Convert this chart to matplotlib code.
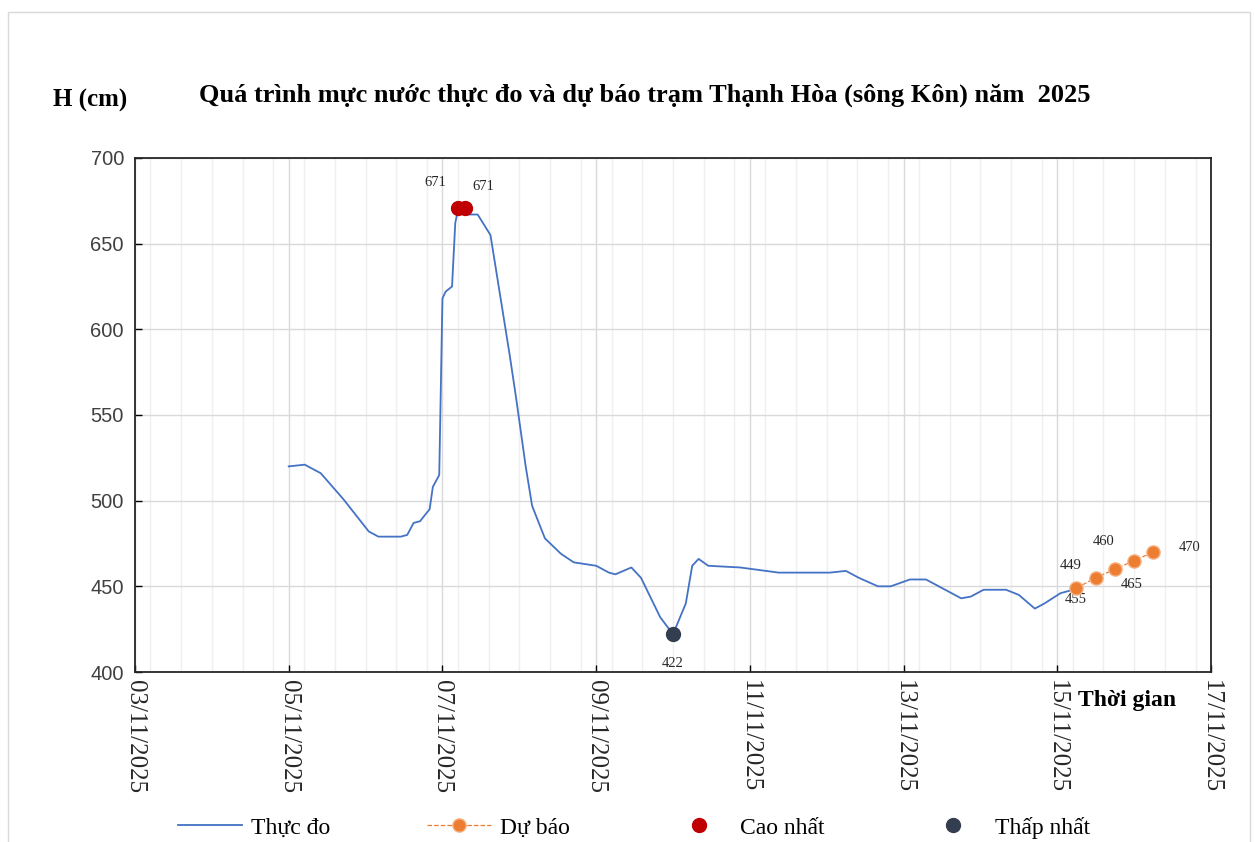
import matplotlib
matplotlib.use("Agg")
import matplotlib.pyplot as plt
from matplotlib.patches import Rectangle
from matplotlib.ticker import MultipleLocator
import pandas as pd

# Observed water level (cm)
obs_time = [
    "2025-11-05 00:00", "2025-11-05 05:00", "2025-11-05 10:00", "2025-11-05 17:00",
    "2025-11-06 01:00", "2025-11-06 04:00", "2025-11-06 11:00", "2025-11-06 13:00",
    "2025-11-06 15:00", "2025-11-06 17:00", "2025-11-06 20:00", "2025-11-06 21:00",
    "2025-11-06 23:00", "2025-11-07 00:00", "2025-11-07 01:00", "2025-11-07 03:00",
    "2025-11-07 04:00", "2025-11-07 05:00", "2025-11-07 07:00", "2025-11-07 08:00",
    "2025-11-07 11:00", "2025-11-07 15:00", "2025-11-07 18:00", "2025-11-07 21:00",
    "2025-11-07 23:00", "2025-11-08 02:00", "2025-11-08 04:00", "2025-11-08 08:00",
    "2025-11-08 13:00", "2025-11-08 17:00", "2025-11-09 00:00", "2025-11-09 04:00",
    "2025-11-09 06:00", "2025-11-09 11:00", "2025-11-09 14:00", "2025-11-09 20:00",
    "2025-11-10 00:00", "2025-11-10 04:00", "2025-11-10 06:00", "2025-11-10 08:00",
    "2025-11-10 11:00", "2025-11-10 21:00", "2025-11-11 09:00", "2025-11-12 01:00",
    "2025-11-12 06:00", "2025-11-12 10:00", "2025-11-12 16:00", "2025-11-12 20:00",
    "2025-11-13 02:00", "2025-11-13 07:00", "2025-11-13 13:00", "2025-11-13 18:00",
    "2025-11-13 21:00", "2025-11-14 01:00", "2025-11-14 08:00", "2025-11-14 12:00",
    "2025-11-14 17:00", "2025-11-14 20:00", "2025-11-15 01:00", "2025-11-15 05:00",
]
obs_level = [
    520, 521, 516, 501,
    482, 479, 479, 480,
    487, 488, 495, 508,
    515, 618, 622, 625,
    662, 671, 671, 667,
    667, 655, 620, 585,
    560, 520, 497, 478,
    469, 464, 462, 458,
    457, 461, 455, 432,
    422, 440, 462, 466,
    462, 461, 458, 458,
    459, 455, 450, 450,
    454, 454, 448, 443,
    444, 448, 448, 445,
    437, 440, 446, 448,
]

# Forecast
fc_time = ["2025-11-15 06:00", "2025-11-15 12:00", "2025-11-15 18:00",
           "2025-11-16 00:00", "2025-11-16 06:00"]
fc_level = [449, 455, 460, 465, 470]

# Extremes
max_time = ["2025-11-07 05:00", "2025-11-07 07:00"]
max_level = [671, 671]
min_time = ["2025-11-10 00:00"]
min_level = [422]

# Axis ticks
x_ticks = pd.date_range("2025-11-03", "2025-11-17", freq="2D")
y_ticks = [400, 450, 500, 550, 600, 650, 700]

obs_t = pd.to_datetime(obs_time)
fc_t = pd.to_datetime(fc_time)
max_t = pd.to_datetime(max_time)
min_t = pd.to_datetime(min_time)

serif = ["Liberation Serif", "DejaVu Serif"]
sans = ["Liberation Sans", "DejaVu Sans"]
plt.rcParams["font.family"] = serif

fig = plt.figure(figsize=(12.55, 8.42), dpi=100)
ax = fig.add_axes([0.1076, 0.2019, 0.8573, 0.6105])

ax.plot(obs_t, obs_level, color="#4472C4", lw=1.3, label="Thực đo", zorder=3)
ax.plot(fc_t, fc_level, color="#ED7D31", lw=0.9, ls="--", marker="o",
        markersize=9.5, markerfacecolor="#ED7D31", markeredgecolor="#F4B183",
        markeredgewidth=1, label="Dự báo", zorder=4)
ax.plot(max_t, max_level, ls="none", marker="o", markersize=10,
        color="#C00000", label="Cao nhất", zorder=5)
ax.plot(min_t, min_level, ls="none", marker="o", markersize=10,
        color="#333F50", label="Thấp nhất", zorder=5)

# value labels
lab_kw = dict(fontsize=10.5, color="#262626", ha="center", va="center")
ax.annotate(f"{max_level[0]}", (max_t[0], max_level[0]), xytext=(-17, 18),
            textcoords="offset points", **lab_kw)
ax.annotate(f"{max_level[1]}", (max_t[1], max_level[1]), xytext=(13, 15),
            textcoords="offset points", **lab_kw)
ax.annotate(f"{min_level[0]}", (min_t[0], min_level[0]), xytext=(0, -21),
            textcoords="offset points", **lab_kw)
fc_offsets = [(-4, 16), (-14, -16), (-8, 20), (-2, -17), (26, 3)]
for t, v, off in zip(fc_t, fc_level, fc_offsets):
    ax.annotate(f"{v}", (t, v), xytext=off, textcoords="offset points", **lab_kw)

ax.set_xlim(x_ticks[0], x_ticks[-1])
ax.set_ylim(y_ticks[0], y_ticks[-1])
ax.set_yticks(y_ticks, [str(v) for v in y_ticks], family=sans, fontsize=14.5,
              color="#404040")
ax.set_xticks(x_ticks, [t.strftime("%d/%m/%Y") for t in x_ticks], family=serif,
              fontsize=18, rotation=-90, ha="center", va="top", color="#262626")
ax.xaxis.set_minor_locator(MultipleLocator(0.4))

ax.grid(True, which="major", axis="both", color="#d9d9d9", lw=1)
ax.grid(True, which="minor", axis="x", color="#efefef", lw=1)
ax.set_axisbelow(True)

for sp in ax.spines.values():
    sp.set_color("#262626")
    sp.set_linewidth(1.3)

ax.tick_params(axis="y", which="major", direction="in", length=5, width=1, pad=8)
ax.tick_params(axis="x", which="major", direction="in", length=5, width=1, pad=6)
ax.tick_params(axis="x", which="minor", length=0)

fig.text(0.514, 0.887, "Quá trình mực nước thực đo và dự báo trạm Thạnh Hòa (sông Kôn) năm  2025",
         ha="center", va="center", fontsize=19, fontweight="bold")
fig.text(0.0717, 0.881, "H (cm)", ha="center", va="center", fontsize=18,
         fontweight="bold")
fig.text(0.898, 0.168, "Thời gian", ha="center", va="center", fontsize=17,
         fontweight="bold")

fig.legend(loc="center", bbox_to_anchor=(0.505, 0.017), ncol=4, frameon=False,
           handlelength=2.7, columnspacing=4.1, handletextpad=0.4,
           prop={"size": 17})

# light chart-area border
fig.patches.append(Rectangle((0.0064, -0.01), 0.9896, 0.9957, transform=fig.transFigure,
                             fill=False, edgecolor="#d9d9d9", lw=1))

fig.savefig("out.png", dpi=100)
